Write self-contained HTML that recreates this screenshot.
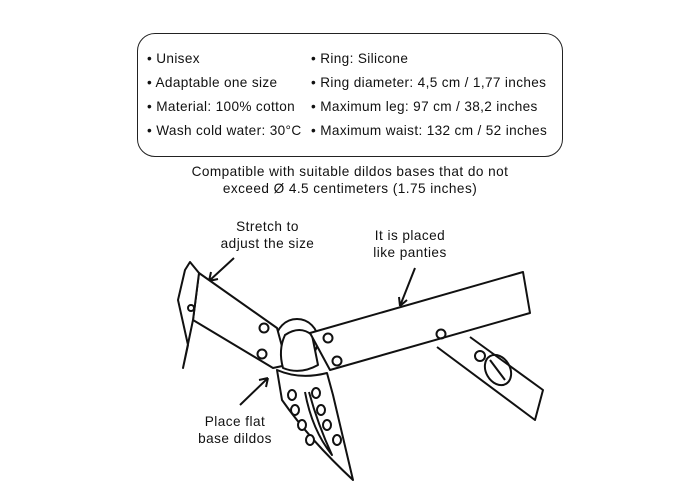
<!DOCTYPE html>
<html><head><style>
body{margin:0;width:700px;height:500px;background:#fff;font-family:"Liberation Sans",sans-serif;color:#111;position:relative;overflow:hidden}
.box{position:absolute;left:137px;top:33px;width:426px;height:124px;border:1.3px solid #222;border-radius:18px;box-sizing:border-box}
.t{position:absolute;font-size:13.6px;letter-spacing:0.35px;white-space:nowrap}
.c{position:absolute;font-size:13.6px;letter-spacing:0.45px;text-align:center;line-height:17px;white-space:nowrap}
</style></head><body>
<div class="box"></div>
<div class="t" style="left:147px;top:51px">• Unisex</div>
<div class="t" style="left:147px;top:75px">• Adaptable one size</div>
<div class="t" style="left:147px;top:99px">• Material: 100% cotton</div>
<div class="t" style="left:147px;top:123px">• Wash cold water: 30°C</div>
<div class="t" style="left:311px;top:51px">• Ring: Silicone</div>
<div class="t" style="left:311px;top:75px">• Ring diameter: 4,5 cm / 1,77 inches</div>
<div class="t" style="left:311px;top:99px">• Maximum leg: 97 cm / 38,2 inches</div>
<div class="t" style="left:311px;top:123px">• Maximum waist: 132 cm / 52 inches</div>
<div class="c" style="left:150px;width:400px;top:163px">Compatible with suitable dildos bases that do not<br>exceed Ø 4.5 centimeters (1.75 inches)</div>
<div class="c" style="left:200px;width:135px;top:218px">Stretch to<br>adjust the size</div>
<div class="c" style="left:360px;width:100px;top:227px">It is placed<br>like panties</div>
<div class="c" style="left:185px;width:100px;top:413px">Place flat<br>base dildos</div>
<svg width="700" height="500" style="position:absolute;left:0;top:0" fill="none" stroke="#111" stroke-width="2" stroke-linejoin="round">
<path d="M234 258 L209 281 M209 281 l2 -9 M209 281 l9 -2"/>
<path d="M415 268 L400 306 M400 306 l-1 -9 M400 306 l7 -6"/>
<path d="M240 405 L268 378 M268 378 l-2 9 M268 378 l-9 2"/>
<path d="M470 337 L543 390 L535 420 L437 347"/>
<ellipse cx="498" cy="370" rx="12" ry="16" transform="rotate(-30 498 370)"/>
<path d="M490 360 L505 380"/>
<circle cx="480" cy="356" r="5"/>
<path d="M277 370 Q300 380 327 373 L333 395 L353 480 Q310 440 282 400 Z" fill="#fff"/>
<path d="M305 392 Q312 430 332 455 Q318 425 309 392"/>
<g fill="#fff">
<ellipse cx="292" cy="395" rx="4" ry="5"/><ellipse cx="295" cy="410" rx="4" ry="5"/><ellipse cx="302" cy="425" rx="4" ry="5"/><ellipse cx="310" cy="440" rx="4" ry="5"/>
<ellipse cx="316" cy="393" rx="4" ry="5"/><ellipse cx="321" cy="410" rx="4" ry="5"/><ellipse cx="327" cy="425" rx="4" ry="5"/><ellipse cx="337" cy="440" rx="4" ry="5"/>
</g>
<circle cx="297" cy="340" r="21"/>
<path d="M199 273 L277 328 L287 365 L273 368 L193 320 Z" fill="#fff"/>
<path d="M190 262 L199 273 L193 320 L183 368 L188 345 L178 300 L185 270 Z" fill="#fff"/>
<circle cx="264" cy="328" r="4.5"/><circle cx="262" cy="354" r="4.5"/><circle cx="191" cy="308" r="3"/>
<path d="M285 335 Q300 325 312 335 L318 365 Q300 375 283 368 Q278 350 285 335 Z" fill="#fff"/>
<path d="M310 333 L523 272 L530 313 L330 370 Z" fill="#fff"/>
<circle cx="328" cy="338" r="4.5"/><circle cx="337" cy="361" r="4.5"/><circle cx="441" cy="334" r="4.5"/>
</svg>
</body></html>
